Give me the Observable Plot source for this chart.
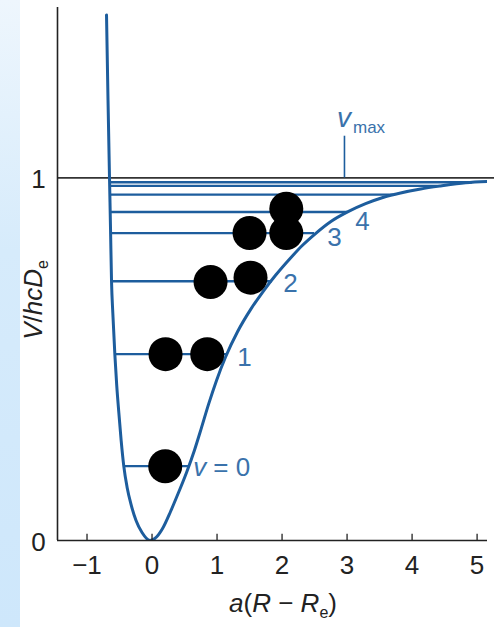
<!DOCTYPE html>
<html><head><meta charset="utf-8">
<script src="https://cdn.jsdelivr.net/npm/d3@7"></script>
<script src="https://cdn.jsdelivr.net/npm/@observablehq/plot@0.6"></script>
<style>
html,body{margin:0;padding:0;background:#fff;}
#wrap{position:relative;width:494px;height:627px;overflow:hidden;background:#fff;}
#strip{position:absolute;left:0;top:0;width:20px;height:627px;background:linear-gradient(#eef6fd,#d6ebfb 40%,#cee7fb);}
#chart{position:absolute;left:0;top:0;}
</style></head><body>
<div id="wrap"><div id="strip"></div><div id="chart"></div></div>
<script>
// Potential curve (x = a(R - Re), y = V/hcDe)
const curveX = [-0.700, -0.677, -0.654, -0.638, -0.623, -0.603, -0.572, -0.543, -0.511, -0.475, -0.434, -0.383, -0.323, -0.246, -0.154, -0.031,
  0.069, 0.162, 0.285, 0.408, 0.531, 0.654, 0.762, 0.869, 0.992, 1.131, 1.315, 1.515, 1.708, 1.900, 2.131, 2.315, 2.515, 2.746, 3.008, 3.285, 3.562, 3.823, 4.131, 4.438, 4.823, 5.269];
const curveY = [1.449, 1.2145, 1.0, 0.8556, 0.7149, 0.6266, 0.5134, 0.4278, 0.3533, 0.2760, 0.2043, 0.1463, 0.0994, 0.0552, 0.0221, 0,
  0.0097, 0.0331, 0.0800, 0.1325, 0.1877, 0.2498, 0.3119, 0.3754, 0.4416, 0.5062, 0.5758, 0.6368, 0.6867, 0.7314, 0.7792, 0.8142, 0.8465, 0.8791, 0.9062, 0.9288, 0.9467, 0.9586, 0.9694, 0.9777, 0.9865, 0.9909];
// Vibrational levels
const levelE = [0.205, 0.514, 0.715, 0.848, 0.906, 0.954, 0.978, 0.988];
const levelLeft = [-0.434, -0.572, -0.623, -0.640, -0.645, -0.650, -0.652, -0.653];
const levelRight = [0.565, 1.15, 1.85, 2.50, 3.01, 3.72, 4.44, 4.93];
// Level number labels
const numText = ["1", "2", "3", "4"];
const numX = [1.423, 2.131, 2.808, 3.238];
const numY = [0.505, 0.709, 0.836, 0.880];
// Black dots
const dotX = [0.203, 0.208, 0.849, 0.90, 1.515, 1.50, 2.065, 2.065];
const dotY = [0.205, 0.514, 0.514, 0.713, 0.725, 0.848, 0.848, 0.915];
// Axes
const xTicks = [-1, 0, 1, 2, 3, 4, 5];
const yTicks = [0, 1];
const xDomain = [-1.454, 5.16];
const yDomain = [0, 1.47];
const vmaxX = 2.96;
const vmaxTop = 1.115;
const dissoc = 1;

const blue = "#1d5d9d";
const labelBlue = "#3a72ab";
const ink = "#222";
const font = "'Liberation Sans', Arial, Helvetica, sans-serif";

const curve = curveX.map((x, i) => ({x, y: curveY[i]}));
const levels = levelE.map((e, i) => ({e, l: levelLeft[i], r: levelRight[i]}));
const nums = numText.map((t, i) => ({t, x: numX[i], y: numY[i]}));
const dots = dotX.map((x, i) => ({x, y: dotY[i]}));

const plot = Plot.plot({
  width: 494, height: 627,
  marginLeft: 57, marginRight: 7, marginTop: 7, marginBottom: 87,
  style: {fontFamily: font, background: "transparent", overflow: "visible"},
  x: {domain: xDomain, axis: null},
  y: {domain: yDomain, axis: null},
  marks: [
    Plot.ruleY(levels, {y: "e", x1: "l", x2: "r", stroke: blue, strokeWidth: 2.3}),
    Plot.ruleY([dissoc], {x1: xDomain[0], x2: 5.3, stroke: "#333", strokeWidth: 1.6}),
    Plot.ruleX([vmaxX], {x: d => d, y1: dissoc, y2: vmaxTop, stroke: blue, strokeWidth: 1.6}),
    Plot.line(curve, {x: "x", y: "y", stroke: blue, strokeWidth: 3, curve: "monotone-x", clip: true}),
    Plot.ruleY([0], {x1: xDomain[0], x2: xDomain[1], stroke: ink, strokeWidth: 1.6}),
    Plot.ruleX([xDomain[0]], {y1: 0, y2: yDomain[1], stroke: ink, strokeWidth: 1.6}),
    Plot.ruleX(xTicks, {x: d => d, y1: 0, y2: 0.017, stroke: ink, strokeWidth: 1.3}),
    Plot.text(xTicks, {x: d => d, y: 0, dy: 25, text: d => d < 0 ? "\u2212" + Math.abs(d) : String(d), fontSize: 26, fill: ink, fontFamily: font}),
    Plot.text(yTicks, {x: xDomain[0], y: d => d, dx: -19, dy: 2, text: d => String(d), fontSize: 26, fill: ink, fontFamily: font}),
    Plot.text(nums, {x: "x", y: "y", text: "t", fontSize: 26, fill: labelBlue, fontFamily: font}),
    Plot.dot(dots, {x: "x", y: "y", r: 17, fill: "black", stroke: "none"})
  ]
});
document.getElementById("chart").appendChild(plot);

const X = plot.scale("x"), Y = plot.scale("y");
const sx = v => X.apply ? X.apply(v) : X.range[0] + (v - X.domain[0]) / (X.domain[1] - X.domain[0]) * (X.range[1] - X.range[0]);
const sy = v => Y.apply ? Y.apply(v) : Y.range[0] + (v - Y.domain[0]) / (Y.domain[1] - Y.domain[0]) * (Y.range[1] - Y.range[0]);
const svg = d3.select(plot);

// v = 0 label
const t0 = svg.append("text").attr("x", sx(0.64)).attr("y", sy(levelE[0]) + 10).attr("text-anchor", "start")
  .attr("font-family", font).attr("font-size", 26).attr("fill", labelBlue);
t0.append("tspan").attr("font-style", "italic").text("v");
t0.append("tspan").text(" = 0");

// v_max label
const tm = svg.append("text").attr("x", sx(vmaxX) - 7).attr("y", sy(vmaxTop) - 9).attr("text-anchor", "start")
  .attr("font-family", font).attr("font-size", 28).attr("fill", labelBlue);
tm.append("tspan").attr("font-style", "italic").text("v");
tm.append("tspan").attr("font-size", 17).attr("dy", 6).attr("dx", 2).text("max");

// x axis title
const tx = svg.append("text").attr("x", 283).attr("y", 612).attr("text-anchor", "middle")
  .attr("font-family", font).attr("font-size", 26).attr("fill", ink);
tx.append("tspan").attr("font-style", "italic").text("a");
tx.append("tspan").text("(");
tx.append("tspan").attr("font-style", "italic").text("R");
tx.append("tspan").text(" \u2212 ");
tx.append("tspan").attr("font-style", "italic").text("R");
tx.append("tspan").attr("font-size", 16).attr("dy", 6).text("e");
tx.append("tspan").attr("dy", -6).text(")");

// y axis title
const ty = svg.append("text").attr("transform", "translate(42,300) rotate(-90)").attr("text-anchor", "middle")
  .attr("font-family", font).attr("font-size", 26).attr("fill", ink);
ty.append("tspan").attr("font-style", "italic").text("V");
ty.append("tspan").text("/");
ty.append("tspan").attr("font-style", "italic").text("hcD");
ty.append("tspan").attr("font-size", 16).attr("dy", 6).text("e");
</script></body></html>
